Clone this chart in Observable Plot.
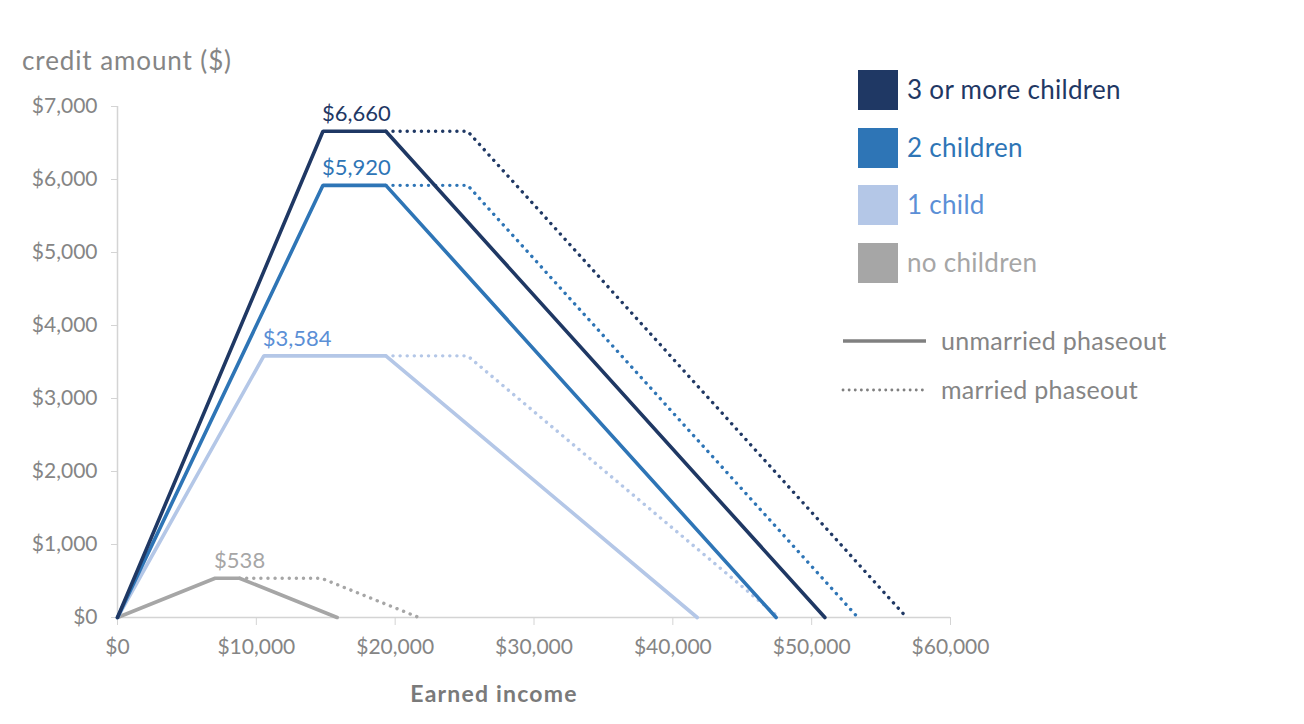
<!DOCTYPE html>
<html>
<head>
<meta charset="utf-8">
<script src="https://cdn.jsdelivr.net/npm/d3@7"></script>
<script src="https://cdn.jsdelivr.net/npm/@observablehq/plot@0.6"></script>
<style>
  html, body { margin: 0; padding: 0; background: #fff; }
  #wrap { position: relative; width: 1304px; height: 724px; font-family: Lato, "Open Sans", sans-serif; }
  #wrap svg { position: absolute; left: 0; top: 0; }
  .ov { position: absolute; white-space: nowrap; }
  .sw { position: absolute; width: 40px; height: 40px; }
</style>
</head>
<body>
<div id="wrap"></div>
<script>
// ---- data ----
const categories = ["no children", "1 child", "2 children", "3 or more children"];
const lineColors = ["#a6a6a6", "#b4c7e7", "#2e75b6", "#1f3864"];
const labelColors = ["#a6a6a6", "#5b8fd6", "#2e75b6", "#1f3864"];
const legendTextColors = ["#a6a6a6", "#5b8fd6", "#2e75b6", "#1f3864"];
const phaseInEnd = [7030, 10540, 14800, 14800];
const maxCredit = [538, 3584, 5920, 6660];
const unmarriedPhaseoutStart = [8790, 19330, 19330, 19330];
const unmarriedPhaseoutEnd = [15820, 41756, 47440, 50954];
const marriedPhaseoutStart = [14680, 25220, 25220, 25220];
const marriedPhaseoutEnd = [21710, 47646, 53330, 56844];
const maxLabels = ["$538", "$3,584", "$5,920", "$6,660"];
const xTicks = [0, 10000, 20000, 30000, 40000, 50000, 60000];
const yTicks = [0, 1000, 2000, 3000, 4000, 5000, 6000, 7000];

// ---- build tables ----
const solid = [], dotted = [], labels = [];
categories.forEach((c, i) => {
  solid.push({cat: c, x: 0, y: 0}, {cat: c, x: phaseInEnd[i], y: maxCredit[i]},
             {cat: c, x: unmarriedPhaseoutStart[i], y: maxCredit[i]}, {cat: c, x: unmarriedPhaseoutEnd[i], y: 0});
  dotted.push({cat: c, x: unmarriedPhaseoutStart[i], y: maxCredit[i]},
              {cat: c, x: marriedPhaseoutStart[i], y: maxCredit[i]}, {cat: c, x: marriedPhaseoutEnd[i], y: 0});
  labels.push({cat: c, x: phaseInEnd[i], y: maxCredit[i], text: maxLabels[i], color: labelColors[i]});
});
const fmt = d => "$" + d3.format(",")(d);
const tickGray = "#858585";
const axisGray = "#d4d4d4";
const DOT = "0.1,7";

const marks = [
  Plot.ruleY([0], {stroke: axisGray, strokeWidth: 1.5}),
  Plot.ruleX([0], {stroke: axisGray, strokeWidth: 1.5}),
  Plot.axisY(yTicks, {tickFormat: fmt, tickSize: 6, tickPadding: 14, stroke: axisGray, color: tickGray, fontSize: 21, label: null}),
  Plot.axisX(xTicks, {tickFormat: fmt, tickSize: 8, tickPadding: 14, stroke: axisGray, color: tickGray, fontSize: 21, label: null}),
];
categories.forEach((c, i) => {
  marks.push(Plot.line(dotted.filter(d => d.cat === c), {x: "x", y: "y", stroke: lineColors[i], strokeWidth: 3.4, strokeDasharray: DOT, strokeLinecap: "round"}));
});
categories.forEach((c, i) => {
  marks.push(Plot.line(solid.filter(d => d.cat === c), {x: "x", y: "y", stroke: lineColors[i], strokeWidth: 3.6, strokeLinejoin: "miter"}));
});
marks.push(Plot.text(labels, {x: "x", y: "y", text: "text", fill: d => d.color, textAnchor: "start", dy: -17, dx: -1, fontSize: 22}));

const chart = Plot.plot({
  width: 1304, height: 724,
  marginLeft: 117, marginRight: 354, marginTop: 106, marginBottom: 107,
  x: {domain: [0, 60000]},
  y: {domain: [0, 7000]},
  style: {fontFamily: "Lato, 'Open Sans', sans-serif", background: "#fff"},
  marks
});
const wrap = document.getElementById("wrap");
wrap.appendChild(chart);

function addText(txt, left, top, style) {
  const d = document.createElement("div");
  d.className = "ov"; d.textContent = txt;
  d.style.left = left + "px"; d.style.top = top + "px";
  Object.assign(d.style, style);
  wrap.appendChild(d);
  return d;
}
addText("credit amount ($)", 22, 44, {fontSize: "26px", letterSpacing: "0.9px", color: "#858585", lineHeight: "32px"});
addText("Earned income", 494, 677, {fontSize: "23px", letterSpacing: "1.2px", color: "#7a7a7a", fontWeight: "bold", transform: "translateX(-50%)", lineHeight: "32px"});

// legend
const legendOrder = [3, 2, 1, 0];
legendOrder.forEach((i, k) => {
  const top = 70 + k * 57.7;
  const s = document.createElement("div");
  s.className = "sw"; s.style.left = "858px"; s.style.top = top + "px"; s.style.background = lineColors[i];
  wrap.appendChild(s);
  addText(categories[i], 907, top + 3, {fontSize: "26px", letterSpacing: "0.3px", color: legendTextColors[i], lineHeight: "32px"});
});
// line style legend
const ns = "http://www.w3.org/2000/svg";
const lsvg = document.createElementNS(ns, "svg");
lsvg.setAttribute("width", 1304); lsvg.setAttribute("height", 724);
lsvg.style.pointerEvents = "none";
[[341, null], [390, DOT]].forEach(([y, dash]) => {
  const l = document.createElementNS(ns, "line");
  l.setAttribute("x1", 843); l.setAttribute("x2", 926); l.setAttribute("y1", y); l.setAttribute("y2", y);
  l.setAttribute("stroke", "#808080");
  l.setAttribute("stroke-width", dash ? 2.8 : 3.6);
  if (dash) { l.setAttribute("stroke-dasharray", "0.1,6"); l.setAttribute("stroke-linecap", "round"); }
  lsvg.appendChild(l);
});
wrap.appendChild(lsvg);
addText("unmarried phaseout", 941, 324, {fontSize: "25px", letterSpacing: "0.3px", color: "#858585", lineHeight: "32px"});
addText("married phaseout", 941, 373, {fontSize: "25px", letterSpacing: "0.3px", color: "#858585", lineHeight: "32px"});
</script>
</body>
</html>
